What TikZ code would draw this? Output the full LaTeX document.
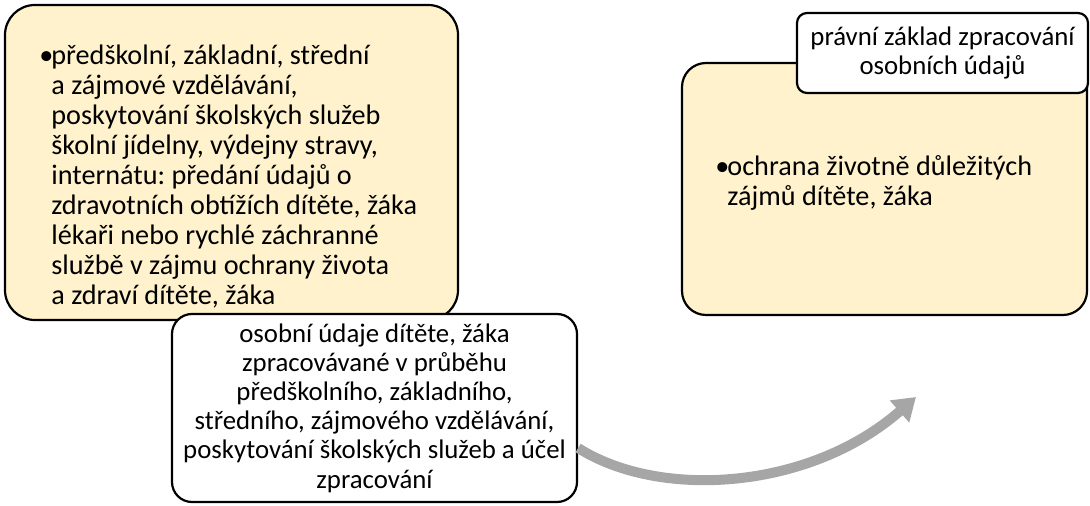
\documentclass[tikz,border=0pt]{standalone}
\usepackage{fontspec}
\setmainfont{Carlito}
\usetikzlibrary{arrows.meta}

\definecolor{zluta}{HTML}{FFF2CC}
\definecolor{sedasipka}{HTML}{A6A6A6}

% bullet with hanging text
\newcommand{\odr}{\makebox[6pt][l]{\textbullet}}
\newcommand{\mez}{\hspace*{6pt}}
\frenchspacing

\begin{document}
\begin{tikzpicture}[x=0.5pt,y=-0.5pt,
	font=\fontsize{14.1}{15}\selectfont,
	zlutybox/.style={draw=black, line width=1.1pt, fill=zluta, rounded corners=15pt, inner sep=0pt},
	bilybox/.style={draw=black, line width=1.1pt, fill=white, rounded corners=10pt, align=center, inner sep=0pt,
		font=\fontsize{13.4}{14.6}\selectfont},
	popis/.style={inner sep=0pt, align=left, anchor=north west}]
	
	\useasboundingbox (0,0) rectangle (1090,506);
	
	%------------------------------
	% Left box: education
	%------------------------------
	\node[zlutybox, minimum width=226.5pt, minimum height=157.5pt] (vzdel) at (231.5,162.5) {};
	\node[popis] (vzdeltext) at (39,45) {%
		\odr předškolní, základní, střední\\
		\mez a zájmové vzdělávání,\\
		\mez poskytování školských služeb\\
		\mez školní jídelny, výdejny stravy,\\
		\mez internátu: předání údajů o\\
		\mez zdravotních obtížích dítěte, žáka\\
		\mez lékaři nebo rychlé záchranné\\
		\mez službě v zájmu ochrany života\\
		\mez a zdraví dítěte, žáka};
	
	%------------------------------
	% Right box: legal basis
	%------------------------------
	\node[zlutybox, rounded corners=12pt, minimum width=202.5pt, minimum height=126pt] (zaklad) at (884.5,189) {};
	\node[popis] (zakladtext) at (715,155) {%
		\odr ochrana životně důležitých\\
		\mez zájmů dítěte, žáka};
	
	% Label on top of the right box
	\node[bilybox, rounded corners=5pt, minimum width=145.5pt, minimum height=40pt] (nadpis) at (942.5,53)
	{právní základ zpracování\\ osobních údajů};
	
	%------------------------------
	% Bottom box: personal data
	%------------------------------
	\node[bilybox, minimum width=202.5pt, minimum height=94pt] (udaje) at (374.5,408)
	{osobní údaje dítěte, žáka\\
		zpracovávané v průběhu\\
		předškolního, základního,\\
		středního, zájmového vzdělávání,\\
		poskytování školských služeb a účel\\
		zpracování};
	
	% Arrow from the data box towards the right
	\coordinate (cil) at (916,397);
	\draw[sedasipka, line width=5pt, -{Triangle[width=14pt,length=11pt]}]
	([yshift=-20pt]udaje.east) .. controls (660,500) and (810,490) .. (cil);
	
\end{tikzpicture}
\end{document}
